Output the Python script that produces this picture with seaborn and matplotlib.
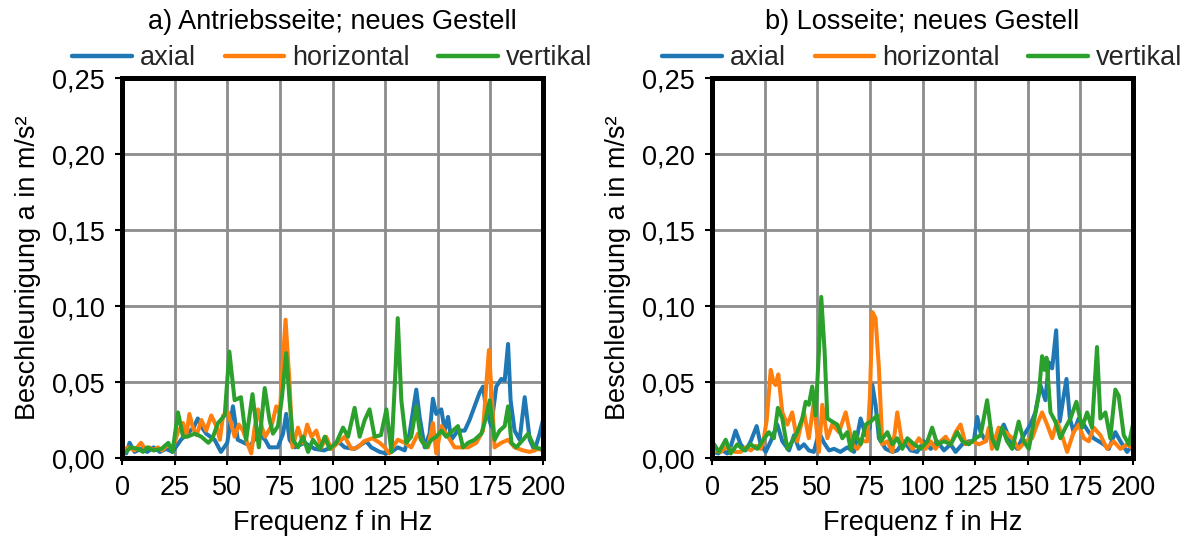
import numpy as np
import pandas as pd
import matplotlib
matplotlib.use("Agg")
import matplotlib.pyplot as plt
import seaborn as sns

# ---------------- data (values in 10^-3 m/s^2) ----------------
# a) Antriebsseite
a_axial_f = [0, 2, 3.6, 6, 9, 12, 15, 18, 21, 24, 26, 28, 31, 34, 36, 38, 40, 42, 44, 47, 50, 52.7, 55, 58, 61,
             64.6, 68, 70, 74, 76.5, 78, 79.6, 82, 86.8, 91.5, 96, 99.4, 102.6, 105.8, 110.5, 116, 118.4, 122.4,
             125.6, 128, 131, 134.3, 136.6, 139.8, 141.4, 143.8, 146.1, 147.7, 149.3, 151.7, 153.3, 154.9, 156.4,
             159.6, 162.8, 165.1, 167.5, 169.9, 171.5, 173, 175.4, 177.8, 180.2, 181.8, 183.4, 184.6, 186.5, 188.9,
             191.3, 193.7, 196, 198.4, 200]
a_axial_v = [4, 3, 10, 4, 6, 4, 7, 4, 6, 4, 8, 12, 16, 20, 26, 20, 16, 14, 12, 4, 10, 34, 12, 10, 8,
             16, 12, 7, 7, 16, 29, 12, 7, 10, 6, 5, 7, 11, 7, 6, 11, 7, 4,
             3, 4, 7, 5, 16, 45, 27, 7, 16, 39, 29, 32, 18, 27, 12,
             18, 18, 25, 34, 43, 47, 32, 21, 47, 52, 51, 75, 38, 18, 12,
             40, 12, 5, 16, 25]

a_horiz_f = [0, 3, 6, 9, 11, 13, 15, 17, 19, 22, 24, 26.6, 29, 30.5, 32, 33.7, 35.5, 37.7, 40, 42.4, 44.8, 46.5,
             48, 50.4, 53.5, 55.5, 57.5, 59.5, 61.4, 63, 64.6, 66.5, 68, 71, 73.3, 75, 76.2, 77.7, 79.6, 81, 83.6,
             86, 88, 90, 92.3, 94.7, 97, 99.4, 102.6, 105.8, 109, 112, 115, 119, 122.4, 124.8, 127, 129, 131,
             134.3, 137.4, 140.6, 143, 145.4, 147.7, 149.3, 151.7, 154.9, 158, 161.2, 164.4, 168.3, 171.5, 173,
             174.3, 175.8, 177, 180.2, 183.4, 186.5, 190.5, 193.7, 197.7, 200]
a_horiz_v = [5, 7, 5, 10, 6, 7, 5, 7, 5, 9, 6, 17, 23, 14, 29, 20, 15, 25, 18, 28, 21, 12,
             28, 30, 14, 22, 18, 10, 3, 20, 32, 20, 14, 21, 34, 29, 60, 91, 49, 7, 20,
             10, 22, 14, 18, 7, 14, 6, 10, 14, 6, 7, 11, 13, 10, 7, 3, 8, 12,
             10, 7, 16, 10, 7, 23, 3, 21, 14, 7, 7, 7, 10, 18, 47,
             71, 38, 7, 10, 12, 7, 5, 4, 6, 5]

a_vert_f = [0, 2, 4, 7.6, 10, 12, 15, 18.7, 22, 24, 26.6, 29, 31, 34.5, 37.7, 41, 43, 45.6, 48.8, 51, 53.5, 56.5,
            59, 62, 65, 67.8, 70.1, 71.7, 74.1, 76, 78, 79.6, 81.2, 83.6, 86, 88.4, 90.7, 94, 96.3, 98.6, 101.8,
            105, 107.4, 110.5, 112.9, 115.3, 117.6, 120, 123, 125.6, 128, 130, 131, 132.7, 135, 137.4, 139.8,
            142, 144.6, 147, 149.3, 151.7, 154, 156.4, 159.6, 162, 164.4, 167.5, 170.7, 172.6, 174.7, 177,
            179.4, 181.8, 183.4, 185, 187.3, 190.5, 192.9, 196, 199.2, 200]
a_vert_v = [5, 4, 7, 6, 4, 7, 5, 6, 10, 4, 30, 14, 14, 16, 14, 10, 13, 23, 28, 70, 38, 40,
            12, 42, 7, 46, 25, 16, 21, 40, 69, 38, 12, 7, 14, 4, 12, 6, 14, 6, 10,
            20, 14, 33, 14, 25, 32, 14, 15, 32, 4, 60, 92, 38, 10, 14, 34,
            12, 7, 12, 14, 18, 14, 17, 21, 7, 10, 12, 16, 25, 38, 12,
            18, 21, 34, 10, 7, 12, 16, 7, 6, 6]

# b) Losseite
b_axial_f = [0, 1, 3, 4.9, 7.3, 9, 11.2, 13.6, 16, 18.4, 21.2, 23.1, 25.5, 27.9, 31, 33.4, 36.6, 39, 41.3, 43.7,
             46, 48.4, 50.8, 53.2, 55.6, 58, 61, 64.3, 67.5, 70.6, 73, 75, 76.2, 77.7, 79.3, 82.5, 85.7, 88, 91.2,
             94.4, 97.5, 100.7, 103.9, 107, 110.2, 113.4, 115.7, 118.9, 122, 124.4, 126, 127.6, 130, 132.3,
             133.5, 135.4, 138.6, 141.8, 145, 148.1, 151.3, 153.6, 156, 158.4, 160, 161.6, 163.5, 165.2, 167.1,
             168.4, 170, 171.8, 174.2, 176.6, 179, 181.3, 183.7, 186.1, 188.5, 191.6, 194, 197.2, 200]
b_axial_v = [3, 4, 3, 5, 3, 8, 18, 9, 5, 11, 21, 9, 4, 11, 22, 11, 5, 15, 6, 9,
             5, 4, 17, 10, 5, 6, 4, 7, 4, 26, 15, 20, 48, 35, 13, 6, 4, 5, 11,
             5, 4, 11, 6, 11, 5, 9, 4, 9, 11, 11, 27, 17, 11, 20,
             9, 13, 22, 11, 6, 15, 22, 30, 48, 38, 63, 59, 84, 24, 41,
             52, 26, 17, 26, 22, 17, 13, 11, 9, 6, 17, 11, 4, 9]

b_horiz_f = [0, 1, 4.1, 6.5, 8.9, 11, 13.6, 16, 18.4, 21, 23.1, 24.5, 26, 27.9, 29.2, 30.2, 31.5, 33.4, 35.8, 38.1,
             40.5, 43.7, 46, 48.4, 50.8, 52.4, 54.8, 57.1, 60.3, 63.5, 66.7, 69, 71.4, 73.8, 75, 76.2, 77.7, 79.3,
             80.9, 83.3, 85.7, 88, 90.4, 92.8, 95.2, 98.3, 101.5, 103.9, 106.2, 108.6, 111, 113.4, 115.7, 118.1,
             120.5, 123.6, 126.8, 130, 131.5, 133, 136.2, 139.4, 142.6, 145.7, 148.9, 152.1, 154.4, 156.8, 159.2,
             161.6, 163.9, 166.3, 168.7, 171.8, 174.2, 176.6, 179, 181.3, 184.5, 187.7, 190.8, 194, 197.2, 200]
b_horiz_v = [4, 5, 4, 7, 6, 4, 4, 7, 5, 8, 6, 12, 25, 58, 50, 48, 55, 30, 22, 30,
             11, 30, 13, 37, 4, 35, 13, 22, 17, 30, 9, 6, 11, 11, 40, 96, 92, 59,
             9, 11, 4, 30, 9, 11, 6, 13, 6, 11, 6, 11, 14, 9, 17, 22,
             9, 11, 9, 11, 20, 6, 20, 17, 13, 6, 11, 13, 22, 30, 22,
             13, 24, 15, 4, 17, 22, 13, 11, 20, 15, 6, 11, 6, 9, 6]

b_vert_f = [0, 1, 3.3, 6.5, 8.9, 12, 15.2, 18.4, 21.5, 23.9, 27, 29.4, 31.3, 33.4, 35.8, 38.1, 40.5, 42.9, 44.5,
            46, 47.6, 49.2, 50.8, 51.9, 53.5, 54.8, 57.1, 59.5, 61.9, 64.3, 66, 67.8, 70.6, 73, 75.4, 78.5, 80.1,
            83.3, 85.7, 88, 90.4, 92.8, 96, 99.1, 102.3, 104.6, 107, 110.2, 113.4, 116.5, 118.9, 122, 125.2,
            127.6, 130.7, 133, 135.4, 137.8, 140.2, 142.6, 145.7, 148.1, 150.5, 152.9, 155.2, 156.8, 157.9,
            158.9, 160.8, 163.1, 165.5, 167.9, 170.3, 173.1, 175.8, 178.2, 180.5, 182.9, 184.5, 186.9, 189.2,
            191.6, 193.2, 195.6, 198, 200]
b_vert_v = [5, 9, 4, 12, 3, 9, 5, 9, 6, 11, 17, 13, 33, 26, 6, 11, 17, 26, 37,
            35, 47, 28, 70, 106, 70, 26, 24, 22, 13, 17, 5, 17, 9, 22, 24, 28, 11,
            17, 9, 13, 6, 13, 9, 6, 11, 20, 9, 11, 9, 17, 11, 9, 13,
            15, 38, 13, 6, 20, 11, 6, 24, 11, 6, 24, 41, 67, 58,
            66, 30, 24, 13, 20, 26, 37, 20, 30, 20, 73, 26, 30, 13,
            45, 41, 15, 9, 22]

directions = ["axial", "horizontal", "vertikal"]
titles = ["a) Antriebsseite; neues Gestell", "b) Losseite; neues Gestell"]
x_ticks = [0, 25, 50, 75, 100, 125, 150, 175, 200]
y_ticks = [0.00, 0.05, 0.10, 0.15, 0.20, 0.25]
colors = ["#1f77b4", "#ff7f0e", "#2ca02c"]

panels = [
    [(a_axial_f, a_axial_v), (a_horiz_f, a_horiz_v), (a_vert_f, a_vert_v)],
    [(b_axial_f, b_axial_v), (b_horiz_f, b_horiz_v), (b_vert_f, b_vert_v)],
]

# ---------------- style ----------------
sns.set_theme(style="whitegrid")
plt.rcParams["font.family"] = ["Liberation Sans", "DejaVu Sans"]
FS = 19.5

W, H = 1198, 540
fig = plt.figure(figsize=(W / 100, H / 100), dpi=100)

axes_px = [(122, 543), (712, 1133)]
top_px, bot_px = 78, 458

for i, (x0, x1) in enumerate(axes_px):
    ax = fig.add_axes([x0 / W, 1 - bot_px / H, (x1 - x0) / W, (bot_px - top_px) / H])
    rows = []
    for d, (f, v) in zip(directions, panels[i]):
        for ff, vv in zip(f, v):
            rows.append({"f": ff, "a": vv / 1000.0, "Richtung": d})
    df = pd.DataFrame(rows)
    sns.lineplot(data=df, x="f", y="a", hue="Richtung", hue_order=directions,
                 palette=colors, estimator=None, sort=False, lw=2.9, ax=ax, legend=True)
    ax.set_xlim(0, 200)
    ax.set_ylim(0, 0.25)
    ax.set_xticks(x_ticks)
    ax.set_yticks(y_ticks)
    ax.set_yticklabels([f"{t:.2f}".replace(".", ",") for t in y_ticks])
    ax.set_xticklabels([str(t) for t in x_ticks])
    ax.tick_params(axis="both", labelsize=FS, length=5, width=1.5, color="black",
                   direction="out", bottom=True, left=True, pad=7.5, labelcolor="black")
    ax.grid(True, color="#8c8c8c", lw=2.0)
    ax.set_axisbelow(True)
    for s in ax.spines.values():
        s.set_visible(True)
        s.set_color("black")
        s.set_linewidth(3.6)
    ax.set_xlabel("Frequenz f in Hz", fontsize=FS, color="black", labelpad=6)
    ax.set_ylabel("Beschleunigung a in m/s²", fontsize=FS, color="black", labelpad=8)
    ax.set_facecolor("white")
    cx = (x0 + x1) / 2 / W
    handles, labels = ax.get_legend_handles_labels()
    ax.legend(handles, labels, loc="center", bbox_to_anchor=(cx, 1 - 58 / H),
              bbox_transform=fig.transFigure, ncol=3, frameon=False, fontsize=FS,
              handlelength=2.2, handletextpad=0.3, columnspacing=1.05, borderpad=0)
    for lh in ax.get_legend().get_lines():
        lh.set_linewidth(3.2)
    fig.text(cx, 1 - 22 / H, titles[i], ha="center", va="center",
             fontsize=FS, color="black")

fig.savefig("out.png", dpi=100, facecolor="white")
